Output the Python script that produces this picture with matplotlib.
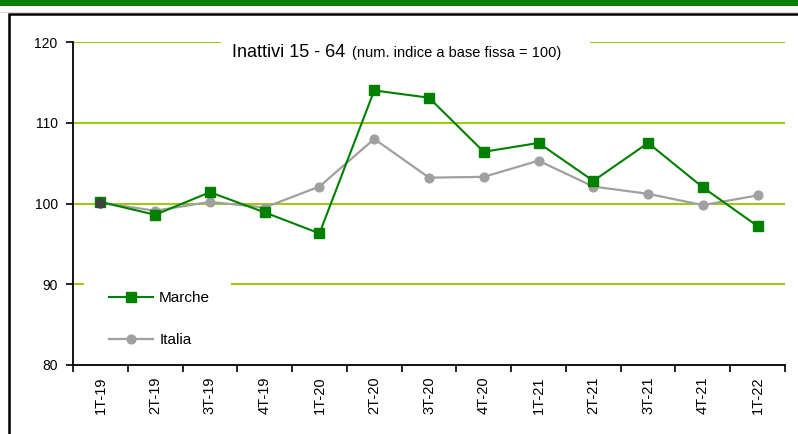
import matplotlib
matplotlib.use('Agg')
import matplotlib.pyplot as plt
from matplotlib.patches import Rectangle
from matplotlib.lines import Line2D

plt.rcParams['font.family'] = ['Liberation Sans', 'DejaVu Sans']

# quarters and index values (base = 100)
quarters = ['1T-19', '2T-19', '3T-19', '4T-19', '1T-20', '2T-20', '3T-20',
            '4T-20', '1T-21', '2T-21', '3T-21', '4T-21', '1T-22']
marche = [100.2, 98.6, 101.4, 98.9, 96.3, 114.0, 113.1, 106.4, 107.5, 102.8, 107.5, 102.0, 97.2]
italia = [100.1, 99.1, 100.2, 99.5, 102.1, 108.0, 103.2, 103.3, 105.3, 102.1, 101.2, 99.8, 101.0]
y_ticks = [80, 90, 100, 110, 120]

W, H = 798, 434
fig = plt.figure(figsize=(W / 100, H / 100), dpi=100)

# green band at the top + frame
fig.patches.append(Rectangle((0, 1 - 5.5 / H), 1, 5.5 / H, transform=fig.transFigure,
                             facecolor='#008000', edgecolor='none'))
fig.lines.append(Line2D([0, 1], [1 - 11.5 / H] * 2, transform=fig.transFigure,
                        color='#d9d9d9', lw=0.8))
fig.patches.append(Rectangle((9 / W, -0.1), 1.2, 1 - 14 / H + 0.1, transform=fig.transFigure,
                             facecolor='none', edgecolor='black', lw=1.8))

ax = fig.add_axes([73 / W, 69 / H, 712 / W, 323 / H])
x = list(range(len(quarters)))

# gridlines (broken where the title and legend sit)
gc = '#99cc00'
ax.axhline(110, color=gc, lw=1.4, zorder=1)
ax.axhline(100, color=gc, lw=1.4, zorder=1)
ax.axhline(120, xmin=0, xmax=0.206, color=gc, lw=1.4, zorder=1)
ax.axhline(120, xmin=0.727, xmax=1, color=gc, lw=1.4, zorder=1)
ax.axhline(90, xmin=0, xmax=0.014, color=gc, lw=1.4, zorder=1)
ax.axhline(90, xmin=0.223, xmax=1, color=gc, lw=1.4, zorder=1)

ax.plot(x, italia, color='#a0a0a0', lw=1.6, marker='o', markersize=6.3,
        markeredgecolor='#a0a0a0', label='Italia', zorder=3)
ax.plot(x[:1], italia[:1], ls='none', marker='o', markersize=6.3, color='#404040', zorder=5)
ax.plot(x, marche, color='#008000', lw=1.5, marker='s', markersize=6.8,
        label='Marche', zorder=4)

ax.set_xlim(-0.5, len(quarters) - 0.5)
ax.set_ylim(80, 120)
ax.set_yticks(y_ticks)
ax.set_yticklabels([str(v) for v in y_ticks], fontsize=10)
ax.set_xticks(x)
ax.set_xticklabels(quarters, rotation=90, fontsize=10.5)
ax.tick_params(axis='x', length=0, pad=8)
ax.set_xticks([i - 0.5 for i in range(len(quarters) + 1)], minor=True)
ax.tick_params(axis='x', which='minor', length=5, width=1.2, direction='out')
ax.tick_params(axis='y', length=5, width=1.2, pad=6)
for s in ['top', 'right']:
    ax.spines[s].set_visible(False)
for s in ['left', 'bottom']:
    ax.spines[s].set_linewidth(1.3)

ax.text(0.223, 0.968, 'Inattivi 15 - 64', transform=ax.transAxes, fontsize=13,
        va='center', ha='left')
ax.text(0.392, 0.966, '(num. indice a base fissa = 100)', transform=ax.transAxes,
        fontsize=10.5, va='center', ha='left')

handles, labels = ax.get_legend_handles_labels()
leg = ax.legend(handles[::-1], labels[::-1], loc='upper left',
                bbox_to_anchor=(0.031, 0.272), frameon=False, fontsize=11,
                labelspacing=1.85, handlelength=2.9, handletextpad=0.4)

fig.savefig('out.png', dpi=100)
